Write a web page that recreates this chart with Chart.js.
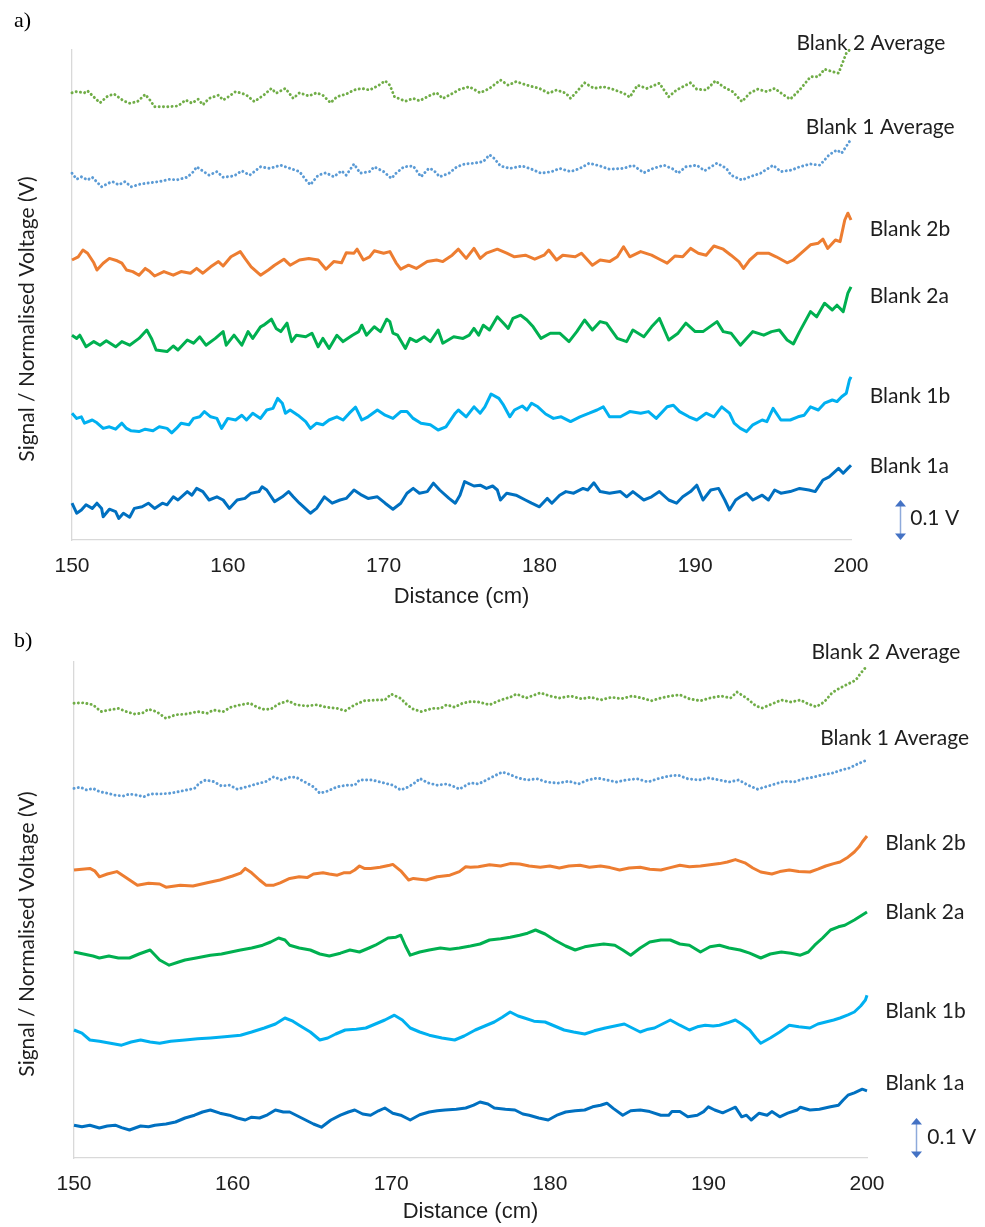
<!DOCTYPE html>
<html><head><meta charset="utf-8">
<script src="https://cdn.jsdelivr.net/npm/chart.js@4.4.1/dist/chart.umd.min.js"></script>
<style>
html,body{margin:0;padding:0;background:#fff;width:985px;height:1227px;overflow:hidden}
#wa{position:absolute;left:0;top:0;width:985px;height:610px}
#wb{position:absolute;left:0;top:610px;width:985px;height:617px}
</style></head><body>
<div id="wa"><canvas id="ca" width="985" height="610"></canvas></div>
<div id="wb"><canvas id="cb" width="985" height="617"></canvas></div>
<script>
// ---- data (distance in cm, signal in mV incl. display offset) ----
const xTicks = [150,160,170,180,190,200];
const seriesNames = ['Blank 2 Average','Blank 1 Average','Blank 2b','Blank 2a','Blank 1b','Blank 1a'];
const scaleBarMV = 100;

// panel a)
const aBlank2Avg = [[150.0,1118],[150.3,1121],[150.8,1118],[151.0,1123],[151.6,1100],[151.8,1093],[152.3,1110],[152.7,1115],[153.3,1098],[153.7,1092],[154.2,1096],[154.7,1114],[155.0,1100],[155.3,1083],[156.1,1083],[156.8,1085],[157.3,1100],[157.7,1092],[158.1,1102],[158.4,1088],[158.8,1104],[159.4,1112],[159.7,1100],[160.0,1107],[160.5,1121],[160.9,1117],[161.2,1112],[161.7,1096],[162.3,1112],[162.8,1129],[163.1,1117],[163.7,1129],[164.2,1104],[164.6,1118],[165.2,1110],[165.7,1118],[166.1,1112],[166.6,1093],[167.0,1108],[167.6,1115],[168.1,1125],[168.6,1129],[169.1,1125],[169.7,1137],[170.1,1148],[170.4,1137],[170.7,1108],[171.4,1097],[171.9,1104],[172.3,1098],[173.0,1112],[173.4,1118],[173.8,1104],[174.5,1118],[174.9,1127],[175.5,1133],[176.2,1118],[176.8,1129],[177.5,1150],[178.0,1137],[178.5,1146],[179.2,1137],[180.0,1129],[180.6,1117],[181.1,1125],[181.7,1117],[182.0,1104],[182.4,1121],[182.9,1143],[183.5,1129],[184.1,1133],[184.7,1127],[185.4,1117],[185.8,1107],[186.3,1137],[186.9,1129],[187.7,1142],[188.3,1108],[188.8,1125],[189.7,1143],[190.1,1127],[190.7,1125],[191.3,1148],[191.8,1133],[192.4,1121],[193.0,1096],[193.5,1117],[194.0,1127],[194.6,1121],[195.1,1129],[195.7,1112],[196.1,1102],[196.7,1125],[197.4,1158],[197.9,1158],[198.3,1177],[198.8,1171],[199.2,1167],[199.4,1187],[199.7,1217],[199.9,1225]];
const aBlank1Avg = [[150.0,917],[150.3,902],[150.6,908],[151.0,900],[151.3,907],[151.9,883],[152.4,893],[152.6,896],[153.0,888],[153.4,896],[153.8,883],[154.4,890],[155.0,893],[155.6,896],[156.3,902],[156.7,900],[157.4,907],[157.8,921],[158.0,933],[158.3,925],[158.8,912],[159.3,921],[159.7,907],[160.4,910],[160.9,923],[161.4,912],[162.1,933],[162.7,929],[163.4,937],[164.0,929],[164.6,921],[165.1,896],[165.3,888],[165.8,912],[166.3,918],[166.8,908],[167.3,923],[167.6,912],[168.1,940],[168.5,917],[169.1,921],[169.4,933],[170.0,921],[170.5,904],[170.8,917],[171.3,933],[171.9,935],[172.4,908],[172.9,929],[173.2,925],[173.6,908],[174.2,917],[174.7,933],[175.2,940],[175.8,942],[176.4,946],[176.8,963],[177.1,954],[177.5,935],[178.1,929],[178.9,935],[179.5,927],[180.1,917],[180.8,921],[181.3,929],[182.0,921],[182.6,929],[183.2,942],[183.9,935],[184.5,927],[185.4,929],[186.0,937],[186.7,918],[187.3,929],[188.0,937],[188.6,927],[188.9,917],[189.4,933],[190.1,937],[190.6,923],[191.4,942],[192.0,929],[192.3,912],[193.0,900],[193.5,908],[194.2,917],[195.0,937],[195.5,921],[196.2,925],[196.7,933],[197.4,940],[198.0,937],[198.6,963],[199.1,975],[199.4,967],[199.9,996]];
const aBlank2b = [[150.0,700],[150.4,708],[150.7,725],[151.0,717],[151.4,693],[151.6,675],[152.0,692],[152.4,704],[152.9,698],[153.2,692],[153.5,675],[153.9,671],[154.3,662],[154.7,679],[155.0,671],[155.3,660],[155.9,671],[156.5,662],[157.0,671],[157.6,667],[158.0,679],[158.4,667],[158.9,683],[159.4,696],[159.7,685],[160.2,708],[160.8,721],[161.1,704],[161.5,683],[162.1,662],[162.6,675],[163.0,687],[163.6,702],[164.0,687],[164.6,700],[165.2,704],[165.8,700],[166.3,677],[166.8,696],[167.3,693],[167.6,718],[168.1,717],[168.3,727],[168.7,700],[169.1,708],[169.4,723],[170.0,717],[170.4,721],[170.8,693],[171.1,677],[171.6,687],[172.1,679],[172.8,696],[173.4,700],[173.8,696],[174.4,712],[174.8,727],[175.3,704],[175.8,729],[176.2,704],[176.6,717],[177.3,727],[177.9,717],[178.4,708],[179.1,712],[179.7,702],[180.3,712],[180.6,725],[181.1,700],[181.5,712],[182.3,708],[182.7,717],[183.4,687],[183.9,700],[184.5,696],[185.0,708],[185.4,733],[185.8,708],[186.5,721],[187.2,712],[187.8,700],[188.2,692],[188.7,710],[189.2,708],[189.7,729],[190.2,717],[190.7,712],[191.2,735],[191.8,727],[192.3,712],[192.8,696],[193.1,679],[193.5,700],[194.0,717],[194.7,717],[195.2,708],[195.9,693],[196.3,700],[196.8,717],[197.4,738],[197.9,742],[198.2,752],[198.5,729],[199.0,750],[199.3,746],[199.6,800],[199.8,817],[200.0,800]];
const aBlank2a = [[150.0,512],[150.3,504],[150.5,512],[150.9,483],[151.4,496],[151.8,487],[152.2,498],[152.8,483],[153.2,496],[153.7,487],[154.3,504],[154.8,525],[155.1,504],[155.4,475],[156.1,471],[156.5,485],[156.8,475],[157.4,500],[157.8,492],[158.2,508],[158.6,487],[159.2,504],[159.7,521],[159.9,487],[160.4,512],[160.9,487],[161.3,521],[161.6,504],[162.1,533],[162.3,537],[162.8,552],[163.1,529],[163.4,521],[163.8,542],[164.1,496],[164.4,512],[165.0,508],[165.4,517],[165.8,483],[166.1,504],[166.5,479],[167.0,512],[167.4,496],[168.0,512],[168.4,521],[168.6,537],[168.9,512],[169.4,533],[169.8,521],[170.2,552],[170.4,546],[170.6,517],[170.9,512],[171.4,479],[171.7,504],[172.1,496],[172.6,508],[173.0,496],[173.5,525],[173.8,492],[174.5,508],[175.1,504],[175.5,512],[175.8,529],[176.1,512],[176.4,537],[176.8,525],[177.3,558],[177.7,542],[178.0,529],[178.3,554],[178.8,562],[179.2,550],[179.6,533],[180.1,504],[180.7,517],[181.3,517],[181.9,496],[182.4,521],[182.9,550],[183.4,525],[183.9,546],[184.3,542],[185.0,504],[185.6,496],[186.0,525],[186.7,508],[187.2,533],[187.7,554],[188.3,500],[188.9,517],[189.4,542],[190.0,521],[190.5,521],[191.4,546],[191.8,521],[192.3,517],[192.9,487],[193.7,521],[194.4,512],[194.9,521],[195.4,525],[195.9,500],[196.3,490],[196.7,521],[197.4,571],[197.8,558],[198.3,592],[198.8,575],[199.1,587],[199.5,571],[199.8,617],[200.0,633]];
const aBlank1b = [[150.0,317],[150.3,304],[150.6,308],[150.8,292],[151.3,300],[151.6,293],[152.0,279],[152.4,283],[152.8,277],[153.2,292],[153.5,279],[153.8,273],[154.3,271],[154.7,277],[155.2,273],[155.6,283],[156.1,279],[156.4,268],[156.7,279],[157.0,292],[157.5,288],[157.8,304],[158.2,308],[158.5,321],[158.9,308],[159.3,304],[159.6,279],[160.0,304],[160.5,300],[160.9,312],[161.2,300],[161.6,317],[162.1,304],[162.5,325],[162.9,329],[163.2,354],[163.5,342],[163.7,317],[164.0,325],[164.5,312],[165.0,296],[165.3,279],[165.7,292],[166.1,288],[166.5,300],[167.0,308],[167.4,300],[167.8,317],[168.2,332],[168.6,300],[169.0,308],[169.6,325],[170.1,312],[170.6,304],[171.1,321],[171.5,321],[171.9,304],[172.4,292],[173.0,288],[173.5,275],[174.0,283],[174.6,317],[174.8,325],[175.3,308],[175.8,333],[176.2,317],[176.5,333],[176.9,365],[177.4,354],[177.7,337],[178.1,308],[178.4,325],[178.9,335],[179.2,325],[179.5,342],[179.9,333],[180.4,315],[180.9,304],[181.4,308],[182.0,296],[182.6,308],[183.2,317],[183.7,325],[184.1,333],[184.5,308],[185.2,308],[185.8,321],[186.5,317],[187.0,321],[187.5,304],[188.2,333],[188.6,337],[189.0,321],[189.6,308],[190.1,300],[190.7,317],[191.2,308],[191.7,333],[192.2,317],[192.5,292],[192.9,279],[193.3,271],[193.7,288],[194.3,300],[194.6,296],[195.0,329],[195.5,300],[196.1,300],[196.6,308],[197.0,312],[197.4,333],[197.9,325],[198.3,342],[198.8,350],[199.1,346],[199.4,358],[199.7,367],[199.9,400],[200.0,408]];
const aBlank1a = [[150.0,92],[150.3,67],[150.6,75],[150.9,88],[151.3,79],[151.6,92],[151.9,79],[152.0,58],[152.4,77],[152.8,71],[153.0,54],[153.3,67],[153.7,57],[154.0,79],[154.5,83],[154.9,92],[155.3,79],[155.8,92],[156.1,88],[156.5,108],[156.8,100],[157.4,121],[157.7,112],[158.0,129],[158.4,121],[158.8,100],[159.3,108],[159.7,100],[160.1,79],[160.6,100],[161.1,104],[161.5,117],[162.0,121],[162.2,133],[162.5,125],[163.0,96],[163.5,108],[163.9,121],[164.2,108],[164.6,92],[165.3,67],[165.7,79],[166.2,108],[166.7,92],[167.2,100],[167.6,104],[168.1,125],[168.6,112],[169.0,104],[169.6,108],[170.1,92],[170.6,77],[171.1,92],[171.5,117],[171.9,129],[172.3,117],[172.8,121],[173.2,142],[173.6,125],[174.2,104],[174.6,92],[174.9,112],[175.2,146],[175.8,135],[176.2,137],[176.6,129],[177.0,135],[177.3,125],[177.5,100],[177.9,117],[178.5,112],[179.1,100],[179.5,92],[180.0,83],[180.5,104],[180.8,92],[181.3,112],[181.7,121],[182.2,117],[182.8,129],[183.1,125],[183.5,143],[183.9,121],[184.5,117],[185.2,121],[185.6,108],[186.0,121],[186.7,100],[187.2,108],[187.7,121],[188.3,100],[188.8,92],[189.2,108],[189.7,121],[190.1,137],[190.5,100],[191.0,125],[191.5,129],[191.9,100],[192.2,75],[192.6,100],[192.9,108],[193.3,117],[193.7,100],[194.3,112],[194.7,100],[195.1,125],[195.5,117],[196.1,121],[196.7,129],[197.3,125],[197.7,121],[198.2,150],[198.6,158],[199.2,179],[199.5,167],[199.8,179],[200.0,187]];

// panel b)
const bBlank2Avg = [[150.0,1137],[150.6,1138],[151.2,1133],[151.7,1116],[152.2,1120],[152.8,1124],[153.3,1116],[153.8,1110],[154.3,1112],[154.7,1122],[155.2,1116],[155.8,1099],[156.4,1108],[157.1,1110],[157.8,1116],[158.4,1112],[158.8,1120],[159.4,1116],[159.9,1127],[160.5,1133],[161.1,1137],[161.5,1128],[161.9,1122],[162.4,1122],[162.9,1135],[163.5,1143],[164.0,1133],[164.7,1130],[165.3,1133],[165.9,1127],[166.6,1124],[167.1,1118],[167.7,1133],[168.3,1143],[169.1,1145],[169.6,1145],[170.0,1160],[170.6,1149],[171.0,1133],[171.4,1122],[171.9,1116],[172.6,1124],[173.1,1124],[173.5,1133],[174.0,1127],[174.5,1137],[175.0,1141],[175.5,1140],[176.2,1133],[176.9,1145],[177.5,1152],[177.9,1160],[178.5,1150],[179.0,1157],[179.4,1163],[180.0,1155],[180.6,1150],[181.3,1155],[182.0,1148],[182.6,1152],[183.2,1145],[183.9,1152],[184.5,1148],[185.2,1155],[185.8,1150],[186.4,1143],[187.0,1150],[187.6,1155],[188.2,1158],[188.8,1148],[189.5,1143],[190.1,1150],[190.8,1155],[191.4,1150],[191.8,1165],[192.4,1150],[193.0,1130],[193.4,1125],[194.0,1135],[194.6,1145],[195.2,1140],[195.8,1145],[196.3,1135],[196.8,1128],[197.3,1140],[197.8,1163],[198.3,1175],[198.8,1185],[199.3,1195],[199.6,1212],[200.0,1230]];
const bBlank1Avg = [[150.0,924],[150.4,927],[150.8,920],[151.2,924],[151.6,916],[152.1,912],[152.6,907],[153.1,905],[153.5,910],[154.0,907],[154.4,903],[154.8,910],[155.4,910],[156.1,912],[156.6,916],[157.1,920],[157.6,924],[157.9,937],[158.3,945],[158.8,941],[159.3,930],[159.8,932],[160.3,922],[160.9,928],[161.5,935],[162.1,941],[162.6,953],[163.1,945],[163.6,952],[164.0,952],[164.5,941],[165.1,928],[165.5,912],[165.9,916],[166.6,928],[167.2,932],[167.7,932],[168.0,945],[168.8,945],[169.5,938],[170.1,932],[170.6,920],[171.1,928],[171.6,941],[171.8,949],[172.3,938],[172.9,932],[173.5,935],[174.0,928],[174.3,922],[175.0,938],[175.5,935],[176.0,945],[176.5,955],[177.0,965],[177.4,960],[178.0,950],[178.6,945],[179.2,948],[179.8,940],[180.5,937],[181.2,942],[181.8,935],[182.4,945],[183.0,950],[183.6,945],[184.2,940],[184.8,945],[185.5,948],[186.2,940],[186.8,948],[187.5,955],[188.1,957],[188.7,948],[189.4,945],[190.0,950],[190.7,945],[191.3,940],[191.9,945],[192.5,932],[193.1,922],[193.6,928],[194.2,935],[194.8,942],[195.4,940],[196.0,948],[196.6,952],[197.2,958],[197.8,962],[198.4,970],[198.9,975],[199.4,985],[200.0,995]];
const bBlank2b = [[150.0,720],[150.5,722],[151.0,724],[151.3,718],[151.6,703],[152.1,710],[152.7,716],[153.2,703],[154.0,682],[154.7,687],[155.4,685],[155.8,677],[156.7,682],[157.5,680],[158.4,688],[159.2,695],[160.0,705],[160.5,712],[160.8,724],[161.2,713],[161.7,695],[162.1,682],[162.6,682],[163.0,688],[163.6,699],[164.2,703],[164.7,701],[165.1,710],[165.7,713],[166.1,710],[166.6,707],[167.0,713],[167.4,713],[167.7,720],[168.0,730],[168.3,724],[168.7,724],[169.3,727],[169.9,732],[170.1,734],[170.6,718],[171.1,695],[171.4,699],[171.8,697],[172.2,695],[172.9,703],[173.7,707],[174.3,716],[174.7,728],[175.0,727],[175.5,728],[176.2,733],[176.9,730],[177.5,736],[178.1,735],[178.7,730],[179.4,727],[180.0,730],[180.6,725],[181.2,730],[181.9,732],[182.5,727],[183.2,730],[183.8,726],[184.4,720],[185.0,725],[185.7,727],[186.3,722],[187.0,720],[187.6,726],[188.2,732],[188.8,728],[189.5,730],[190.1,733],[190.7,736],[191.2,740],[191.7,746],[192.3,738],[192.8,725],[193.3,715],[194.0,710],[194.5,716],[195.1,720],[195.7,716],[196.4,715],[196.9,722],[197.4,730],[197.9,736],[198.3,740],[198.8,752],[199.2,765],[199.5,778],[199.7,790],[200.0,805]];
const bBlank2a = [[150.0,515],[150.6,510],[151.2,505],[151.6,500],[152.2,505],[152.8,500],[153.5,500],[154.1,510],[154.8,520],[155.4,495],[156.0,482],[156.6,490],[157.0,495],[157.7,500],[158.6,507],[159.3,510],[159.9,515],[160.5,520],[161.2,525],[161.9,532],[162.4,540],[162.9,550],[163.3,545],[163.6,532],[164.2,525],[164.9,520],[165.5,510],[166.1,505],[166.8,512],[167.4,520],[168.0,515],[168.6,525],[169.0,532],[169.8,550],[170.3,552],[170.6,557],[170.9,530],[171.2,507],[171.8,515],[172.4,520],[173.1,525],[173.7,522],[174.3,525],[175.0,530],[175.6,535],[176.2,545],[176.9,548],[177.5,552],[178.1,557],[178.6,562],[179.1,570],[179.7,560],[180.3,545],[181.0,530],[181.6,520],[182.2,528],[182.8,532],[183.4,535],[184.1,532],[184.6,520],[185.1,507],[185.7,525],[186.3,540],[187.0,545],[187.6,545],[188.2,535],[188.8,532],[189.5,515],[190.1,528],[190.7,532],[191.3,525],[192.0,520],[192.6,512],[193.3,500],[193.9,510],[194.6,515],[195.2,512],[195.8,507],[196.3,515],[196.7,532],[197.2,550],[197.7,570],[198.2,578],[198.6,582],[199.2,595],[199.6,605],[200.0,615]];
const bBlank1b = [[150.0,320],[150.5,312],[151.0,295],[151.6,292],[152.3,287],[153.0,282],[153.6,290],[154.2,295],[154.8,290],[155.4,287],[156.1,292],[157.0,295],[157.8,298],[158.6,300],[159.5,303],[160.5,307],[161.2,315],[162.0,325],[162.7,335],[163.3,350],[163.8,342],[164.2,332],[164.9,315],[165.5,295],[166.0,300],[166.5,310],[167.1,320],[167.8,322],[168.4,325],[169.0,335],[169.6,345],[170.2,357],[170.7,345],[171.2,325],[171.8,315],[172.4,307],[173.2,300],[174.0,295],[174.6,305],[175.3,320],[175.9,330],[176.5,340],[177.0,352],[177.5,365],[178.0,355],[178.4,350],[179.0,342],[179.7,340],[180.3,330],[180.9,320],[181.5,315],[182.2,310],[182.8,318],[183.5,325],[184.1,330],[184.7,335],[185.2,325],[185.7,315],[186.2,322],[186.6,325],[187.1,335],[187.6,345],[188.2,332],[188.8,320],[189.3,328],[189.8,332],[190.3,330],[190.7,332],[191.2,338],[191.7,345],[192.1,335],[192.6,320],[193.0,300],[193.3,287],[193.9,300],[194.5,315],[195.1,332],[195.7,328],[196.4,325],[196.9,335],[197.4,340],[197.9,345],[198.3,350],[198.8,358],[199.2,365],[199.6,380],[199.9,395],[200.0,407]];
const bBlank1a = [[150.0,82],[150.5,78],[151.0,82],[151.6,75],[152.1,80],[152.6,82],[153.0,76],[153.5,70],[154.2,80],[154.7,78],[155.1,82],[155.8,85],[156.4,90],[157.0,100],[157.6,107],[158.1,115],[158.6,120],[159.2,112],[159.8,107],[160.3,100],[160.8,95],[161.2,102],[161.7,100],[162.2,108],[162.7,120],[163.2,115],[163.6,115],[164.1,105],[164.6,95],[165.1,85],[165.6,77],[166.2,95],[166.8,107],[167.3,115],[167.7,120],[168.2,110],[168.7,107],[169.2,118],[169.6,125],[170.1,112],[170.6,107],[171.2,95],[171.8,108],[172.4,115],[172.9,118],[173.4,120],[174.1,122],[174.7,125],[175.2,132],[175.6,140],[176.1,135],[176.5,125],[177.2,122],[177.8,120],[178.3,110],[178.7,107],[179.3,100],[179.9,95],[180.5,108],[181.0,115],[181.6,118],[182.2,120],[182.7,128],[183.2,132],[183.6,137],[184.0,124],[184.6,107],[185.1,118],[185.7,120],[186.3,116],[187.0,107],[187.5,107],[187.7,116],[188.2,116],[188.7,103],[189.3,107],[189.7,116],[190.0,128],[190.4,120],[190.9,113],[191.3,120],[191.7,127],[192.1,103],[192.4,107],[192.7,95],[193.2,112],[193.7,107],[194.0,116],[194.5,103],[195.0,112],[195.6,120],[195.8,127],[196.4,120],[197.0,122],[197.7,128],[198.2,132],[198.5,145],[198.8,157],[199.2,163],[199.7,172],[200.0,168]];

// ---- styling ----
const COLORS = ['#70ad47','#5b9bd5','#ed7d31','#00b050','#00b0f0','#0070c0'];
const DOTTED = [true,true,false,false,false,false];
const TXT = '#1e1e1e';

const annot = {
  id: 'annot',
  afterDatasetsDraw(chart, args, o) {
    const ctx = chart.ctx, xs = chart.scales.x, ys = chart.scales.y, ca = chart.chartArea;
    ctx.save();
    ctx.fillStyle = '#000';
    ctx.font = '22px "Liberation Serif"';
    ctx.textBaseline = 'middle'; ctx.textAlign = 'left';
    ctx.fillText(o.panel, o.panelPos[0], o.panelPos[1]);
    // y title
    ctx.save();
    ctx.translate(27, (ca.top + ca.bottom) / 2 + 24);
    ctx.rotate(-Math.PI / 2);
    ctx.font = '21px Lato'; ctx.fillStyle = TXT; ctx.textAlign = 'center';
    ctx.fillText('Signal / Normalised Voltage (V)', 0, 0);
    ctx.restore();
    // series labels
    ctx.font = '21px Lato'; ctx.fillStyle = TXT; ctx.textAlign = 'left';
    o.labels.forEach((p, i) => ctx.fillText(seriesNames[i], xs.getPixelForValue(p[0]), ys.getPixelForValue(p[1])));
    // scale bar
    const ax = Math.round(xs.getPixelForValue(o.barX)) + 0.5;
    const y0 = ys.getPixelForValue(0), y1 = ys.getPixelForValue(scaleBarMV);
    ctx.strokeStyle = '#8eaadb'; ctx.lineWidth = 1.5;
    ctx.beginPath(); ctx.moveTo(ax, y1 + 4); ctx.lineTo(ax, y0 - 4); ctx.stroke();
    ctx.fillStyle = '#4472c4';
    ctx.beginPath(); ctx.moveTo(ax, y1); ctx.lineTo(ax - 5.5, y1 + 6.5); ctx.lineTo(ax + 5.5, y1 + 6.5); ctx.closePath(); ctx.fill();
    ctx.beginPath(); ctx.moveTo(ax, y0); ctx.lineTo(ax - 5.5, y0 - 6.5); ctx.lineTo(ax + 5.5, y0 - 6.5); ctx.closePath(); ctx.fill();
    ctx.fillStyle = TXT; ctx.font = '21px Lato';
    ctx.fillText('0.1 V', xs.getPixelForValue(o.barText[0]), ys.getPixelForValue(o.barText[1]));
    ctx.restore();
  }
};

function makeChart(id, series, cfg) {
  const datasets = series.map((s, i) => ({
    label: seriesNames[i],
    data: s.map(p => ({x: p[0], y: p[1]})),
    borderColor: COLORS[i],
    borderWidth: DOTTED[i] ? 2.9 : 3,
    borderDash: DOTTED[i] ? [0.1, 4.2] : [],
    borderCapStyle: DOTTED[i] ? 'round' : 'butt',
    borderJoinStyle: 'round',
    pointRadius: 0,
    tension: 0,
    fill: false,
    clip: false
  }));
  return new Chart(document.getElementById(id), {
    type: 'line',
    data: { datasets },
    plugins: [annot],
    options: {
      responsive: false,
      animation: false,
      events: [],
      layout: { padding: { top: cfg.top, right: cfg.right, bottom: 0, left: 0 } },
      scales: {
        x: {
          type: 'linear', min: xTicks[0], max: xTicks[xTicks.length - 1],
          afterBuildTicks: s => { s.ticks = xTicks.map(v => ({value: v})); },
          afterFit: s => { s.height = cfg.xh; },
          grid: { display: false, drawTicks: false },
          border: { display: true, color: '#d9d9d9', width: 1.3 },
          ticks: { padding: 14, color: TXT, font: { family: '"Liberation Sans", Arial', size: 21 } },
          title: { display: true, text: 'Distance (cm)', color: TXT, padding: { top: 0, bottom: cfg.tpad },
                   font: { family: '"Liberation Sans", Arial', size: 22 } }
        },
        y: {
          type: 'linear', min: 0, max: cfg.ymax,
          afterFit: s => { s.width = cfg.left; },
          grid: { display: false, drawTicks: false },
          border: { display: true, color: '#d9d9d9', width: 1.3 },
          ticks: { display: false }
        }
      },
      plugins: {
        legend: { display: false },
        tooltip: { enabled: false },
        annot: cfg.annot
      }
    }
  });
}

makeChart('ca', [aBlank2Avg, aBlank1Avg, aBlank2b, aBlank2a, aBlank1b, aBlank1a], {
  top: 50, right: 134, left: 72, xh: 70, tpad: 0, ymax: 1225,
  annot: { panel: 'a)', panelPos: [14, 21],
    labels: [[196.5,1242],[197.1,1032],[201.2,777],[201.2,610],[201.2,360],[201.2,185]],
    barX: 203.15, barText: [203.8, 55] }
});
makeChart('cb', [bBlank2Avg, bBlank1Avg, bBlank2b, bBlank2a, bBlank1b, bBlank1a], {
  top: 52, right: 118, left: 74, xh: 69, tpad: 2, ymax: 1240,
  annot: { panel: 'b)', panelPos: [14, 31],
    labels: [[196.5,1265],[197.05,1050],[201.15,787],[201.15,615],[201.15,367],[201.15,187]],
    barX: 203.1, barText: [203.8, 52] }
});
</script>
</body></html>
